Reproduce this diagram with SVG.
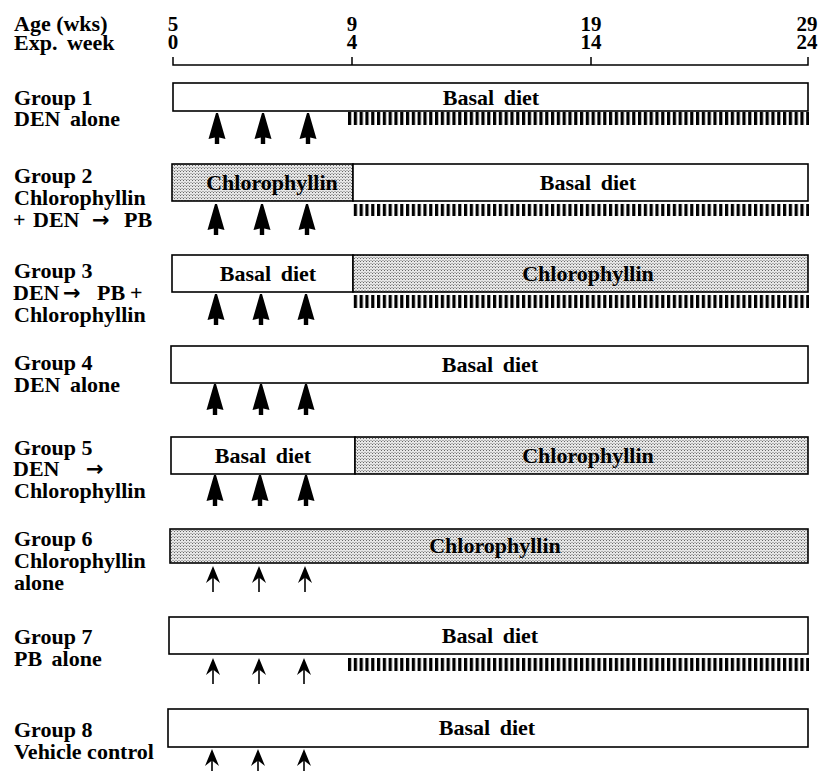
<svg xmlns="http://www.w3.org/2000/svg" xmlns:xlink="http://www.w3.org/1999/xlink" width="820" height="771" viewBox="0 0 820 771">
<style>
text{font-family:"Liberation Serif","Times New Roman",serif;font-weight:bold;font-size:22px;fill:#000}
.num{font-size:21px;text-anchor:middle}
.c{text-anchor:middle}
.ws{word-spacing:4px}
.arr{font-family:"DejaVu Sans",sans-serif;font-size:21px}
.box{fill:#fff;stroke:#000;stroke-width:1.6}
.shd{fill:url(#dots);stroke:#000;stroke-width:1.6}
.ax{stroke:#000;stroke-width:1.5;fill:none}
.thin{stroke:#000;stroke-width:1.6}
</style>
<defs>
<pattern id="dots" width="3" height="3" patternUnits="userSpaceOnUse">
<rect width="3" height="3" fill="#e6e6e6"/>
<rect x="0" y="0" width="1" height="1" fill="#666"/>
<rect x="1.5" y="2" width="1" height="1" fill="#777"/>
</pattern>
<pattern id="hatch" width="5.8" height="20" patternUnits="userSpaceOnUse">
<rect x="0" y="0" width="3.2" height="20" fill="#000"/>
</pattern>
<path id="thick" d="M0,0 L1,0 L8.5,26 L2.2,24.5 L2.2,31 L-2.2,31 L-2.2,24.5 L-8.5,26 L-1,0 Z" fill="#000"/>
<g id="thinarrow">
<line x1="0" y1="8" x2="0" y2="26" class="thin"/>
<path d="M0,0 L7,17 L0,11.5 L-7,17 Z" fill="#000"/>
</g>
</defs>

<g id="axis">
<text x="14" y="31">Age (wks)</text>
<text x="14" y="50" class="ws">Exp. week</text>
<text x="173" y="31" class="num">5</text>
<text x="173" y="49" class="num">0</text>
<text x="352" y="31" class="num">9</text>
<text x="352" y="49" class="num">4</text>
<text x="591" y="31" class="num">19</text>
<text x="591" y="49" class="num">14</text>
<text x="807" y="31" class="num">29</text>
<text x="807" y="49" class="num">24</text>
<path class="ax" d="M173,57 V65 H808 V57 M352,57 V65 M591,57 V65"/>
</g>

<g id="group1">
<text x="14" y="105">Group 1</text>
<text x="14" y="126" class="ws">DEN alone</text>
<rect class="box" x="173" y="83" width="635" height="28"/>
<text x="491" y="104.5" class="c ws">Basal diet</text>
<rect x="347" y="112" width="462" height="13" fill="url(#hatch)"/>
</g>

<g id="group2">
<text x="14" y="183">Group 2</text>
<text x="14" y="205">Chlorophyllin</text>
<text y="227"><tspan x="13">+</tspan><tspan x="33">DEN</tspan><tspan x="92" class="arr">→</tspan><tspan x="124">PB</tspan></text>
<rect class="shd" x="172" y="164" width="181" height="37"/>
<rect class="box" x="353" y="164" width="455" height="37"/>
<text x="272" y="190" class="c">Chlorophyllin</text>
<text x="588" y="190" class="c ws">Basal diet</text>
<rect x="353" y="204" width="456" height="12" fill="url(#hatch)"/>
</g>

<g id="group3">
<text x="14" y="278">Group 3</text>
<text y="300"><tspan x="13">DEN</tspan><tspan x="63" class="arr">→</tspan><tspan x="97">PB</tspan><tspan x="130">+</tspan></text>
<text x="14" y="322">Chlorophyllin</text>
<rect class="box" x="172" y="255" width="181" height="37"/>
<rect class="shd" x="353" y="255" width="455" height="37"/>
<text x="268" y="281" class="c ws">Basal diet</text>
<text x="588" y="281" class="c">Chlorophyllin</text>
<rect x="353" y="295" width="456" height="13" fill="url(#hatch)"/>
</g>

<g id="group4">
<text x="14" y="370">Group 4</text>
<text x="14" y="392" class="ws">DEN alone</text>
<rect class="box" x="171" y="346" width="637" height="37"/>
<text x="490" y="372" class="c ws">Basal diet</text>
</g>

<g id="group5">
<text x="14" y="455">Group 5</text>
<text y="476"><tspan x="13">DEN</tspan><tspan x="86" class="arr">→</tspan></text>
<text x="14" y="498">Chlorophyllin</text>
<rect class="box" x="171" y="437" width="184" height="37"/>
<rect class="shd" x="355" y="437" width="453" height="37"/>
<text x="263" y="463" class="c ws">Basal diet</text>
<text x="588" y="463" class="c">Chlorophyllin</text>
</g>

<g id="group6">
<text x="14" y="546">Group 6</text>
<text x="14" y="568">Chlorophyllin</text>
<text x="14" y="590">alone</text>
<rect class="shd" x="170" y="529" width="638" height="34"/>
<text x="495" y="553" class="c">Chlorophyllin</text>
</g>

<g id="group7">
<text x="14" y="644">Group 7</text>
<text x="14" y="666" class="ws">PB alone</text>
<rect class="box" x="169" y="617" width="639" height="37"/>
<text x="490" y="643" class="c ws">Basal diet</text>
<rect x="347" y="658" width="462" height="13" fill="url(#hatch)"/>
</g>

<g id="group8">
<text x="14" y="737">Group 8</text>
<text x="14" y="759">Vehicle control</text>
<rect class="box" x="168" y="709" width="640" height="38"/>
<text x="487" y="735" class="c ws">Basal diet</text>
</g>

<g id="connectors">
<use xlink:href="#thick" x="217" y="113"/>
<use xlink:href="#thick" x="263" y="113"/>
<use xlink:href="#thick" x="308" y="113"/>
<use xlink:href="#thick" x="216" y="204"/>
<use xlink:href="#thick" x="262" y="204"/>
<use xlink:href="#thick" x="307" y="204"/>
<use xlink:href="#thick" x="216" y="294"/>
<use xlink:href="#thick" x="261" y="294"/>
<use xlink:href="#thick" x="306" y="294"/>
<use xlink:href="#thick" x="215" y="384"/>
<use xlink:href="#thick" x="261" y="384"/>
<use xlink:href="#thick" x="306" y="384"/>
<use xlink:href="#thick" x="215" y="475"/>
<use xlink:href="#thick" x="260" y="475"/>
<use xlink:href="#thick" x="306" y="475"/>
<use xlink:href="#thinarrow" x="213" y="566"/>
<use xlink:href="#thinarrow" x="259" y="566"/>
<use xlink:href="#thinarrow" x="305" y="566"/>
<use xlink:href="#thinarrow" x="213" y="658"/>
<use xlink:href="#thinarrow" x="259" y="658"/>
<use xlink:href="#thinarrow" x="304" y="658"/>
<use xlink:href="#thinarrow" x="212" y="749"/>
<use xlink:href="#thinarrow" x="258" y="749"/>
<use xlink:href="#thinarrow" x="304" y="749"/>
</g>
</svg>
